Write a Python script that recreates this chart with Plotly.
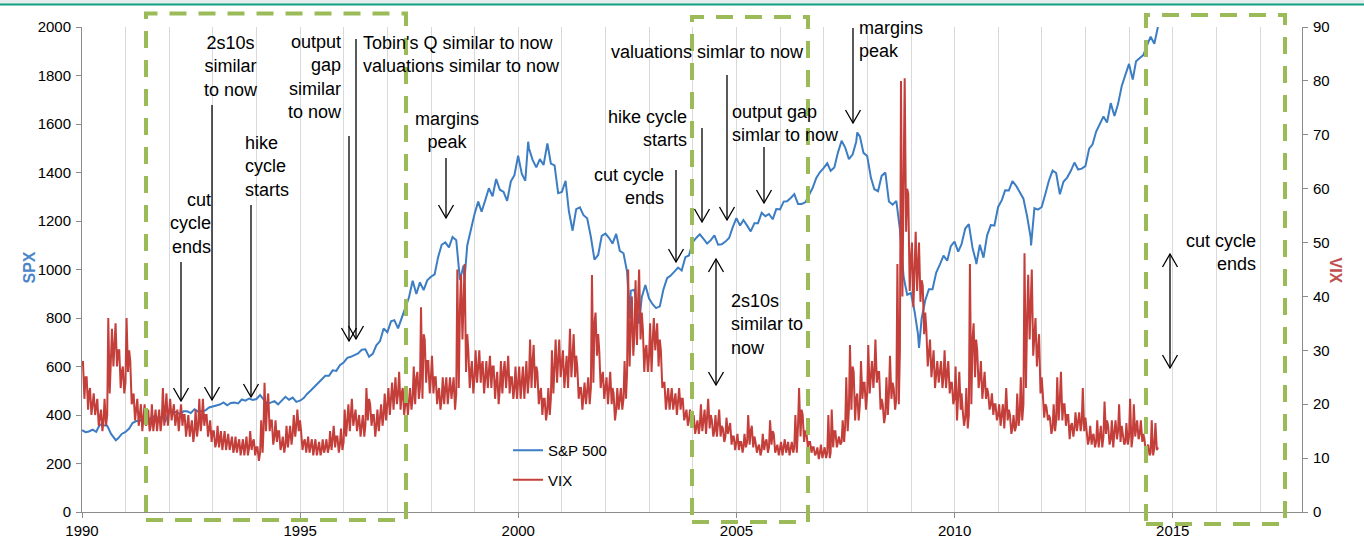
import pandas as pd
import plotly.graph_objects as go

# ---------------- data ----------------
# S&P 500 month-end levels, Jan 1990 .. Aug 2014
spx_close = [
    329, 332, 340, 331, 361, 358, 356, 323, 306, 304, 322, 330,          # 1990
    344, 367, 375, 375, 390, 371, 388, 395, 388, 392, 375, 417,          # 1991
    409, 413, 404, 415, 415, 408, 424, 414, 418, 419, 431, 436,          # 1992
    439, 443, 452, 440, 450, 451, 448, 464, 459, 468, 462, 466,          # 1993
    482, 467, 446, 451, 457, 444, 458, 475, 463, 472, 454, 459,          # 1994
    470, 487, 501, 515, 533, 545, 562, 562, 584, 582, 605, 616,          # 1995
    636, 640, 646, 654, 669, 671, 640, 652, 687, 705, 757, 741,          # 1996
    786, 791, 757, 801, 848, 885, 954, 899, 947, 915, 955, 970,          # 1997
    980, 1049, 1102, 1112, 1091, 1134, 1121, 957, 1017, 1099, 1164, 1229,  # 1998
    1280, 1238, 1286, 1335, 1302, 1373, 1329, 1320, 1283, 1363, 1389, 1469,  # 1999
    1394, 1366, 1499, 1452, 1421, 1455, 1431, 1518, 1437, 1429, 1315, 1320,  # 2000
    1366, 1240, 1160, 1249, 1256, 1224, 1211, 1134, 1041, 1060, 1139, 1148,  # 2001
    1130, 1107, 1147, 1077, 1067, 990, 912, 916, 815, 886, 936, 880,        # 2002
    856, 841, 848, 917, 964, 975, 990, 1008, 996, 1051, 1058, 1112,         # 2003
    1131, 1145, 1126, 1107, 1121, 1141, 1102, 1104, 1115, 1130, 1174, 1212,  # 2004
    1181, 1204, 1181, 1157, 1191, 1191, 1234, 1220, 1229, 1207, 1249, 1248,  # 2005
    1280, 1281, 1295, 1311, 1270, 1270, 1277, 1304, 1336, 1378, 1401, 1418,  # 2006
    1438, 1407, 1421, 1482, 1531, 1503, 1455, 1474, 1527, 1549, 1481, 1468,  # 2007
    1379, 1331, 1323, 1386, 1400, 1280, 1267, 1283, 1166, 969, 896, 903,     # 2008
    826, 735, 798, 873, 919, 919, 987, 1021, 1057, 1036, 1096, 1115,         # 2009
    1074, 1104, 1169, 1187, 1089, 1031, 1102, 1049, 1141, 1183, 1181, 1258,  # 2010
    1286, 1327, 1326, 1364, 1345, 1321, 1292, 1219, 1131, 1253, 1247, 1258,  # 2011
    1312, 1366, 1408, 1398, 1310, 1362, 1379, 1407, 1441, 1412, 1416, 1426,  # 2012
    1498, 1515, 1569, 1598, 1631, 1606, 1686, 1633, 1682, 1757, 1806, 1848,  # 2013
    1783, 1859, 1872, 1884, 1924, 1960, 1931, 2003,                          # 2014
]
# extra intra-month S&P 500 readings (start of series, highs and lows)
spx_extra_dates = ["1990-01-02", "1990-10-11", "1998-10-08", "2000-03-24", "2000-09-01",
                   "2002-07-23", "2002-10-09", "2007-10-09", "2009-03-09", "2010-07-02",
                   "2011-10-03"]
spx_extra_values = [338, 296, 959, 1527, 1520, 797, 777, 1565, 677, 1022, 1099]

# VIX month-end levels, Jan 1990 .. Aug 2014
vix_close = [
    25, 22, 20, 20, 18, 17, 18, 30, 31, 30, 26, 24,        # 1990
    30, 21, 19, 18, 17, 18, 16, 17, 17, 17, 19, 18,        # 1991
    19, 18, 17, 18, 16, 16, 15, 16, 17, 18, 16, 15,        # 1992
    13, 14, 13, 13, 13, 12, 12.5, 12, 12, 12, 13, 12,      # 1993
    11, 15, 20, 17, 14, 15, 12.5, 12.5, 14, 14.5, 16, 17,  # 1994
    13, 12, 12, 12, 12, 11.5, 12, 12, 13.5, 14, 12.5, 13,  # 1995
    17, 18, 18, 17, 16, 16, 21, 18, 16, 17, 18, 20,        # 1996
    21, 21, 22, 22, 20, 20, 21, 25, 23, 33, 28, 25,        # 1997
    25, 22, 21, 23, 22, 23, 22, 38, 40, 33, 26, 25,        # 1998
    27, 27, 25, 26, 27, 24, 23, 26, 26, 25, 23, 24,        # 1999
    24, 24, 25, 28, 27, 22, 21, 19, 21, 27, 29, 28,        # 2000
    26, 27, 30, 29, 23, 21, 22, 23, 35, 33, 25, 23,        # 2001
    23, 23, 19, 21, 21, 26, 35, 33, 39, 37, 30, 29,        # 2002
    32, 33, 32, 24, 21, 21, 21, 20, 21, 18, 17, 17,        # 2003
    16, 16, 17, 17, 18, 15, 16, 16, 14, 16, 14, 13,        # 2004
    13, 12, 13, 15, 14, 12, 11.5, 13, 12, 15, 12, 11.5,    # 2005
    12, 12, 11.5, 12, 16, 19, 15, 13, 12, 11, 11, 11,      # 2006
    11, 11, 15, 13, 13, 16, 19, 27, 21, 20, 24, 22,        # 2007
    26, 26, 26, 21, 18, 22, 24, 21, 30, 62, 60, 47,        # 2008
    45, 45, 43, 37, 30, 28, 25, 26, 25, 26, 24, 21,        # 2009
    22, 22, 17.5, 18, 32, 32, 25, 24, 23, 20, 20, 18,      # 2010
    18, 18, 19, 15.5, 16, 18, 20, 36, 38, 33, 30, 25,      # 2011
    20, 18, 15.5, 17, 21, 20, 18, 16, 15.5, 16.5, 16.5, 17.5,  # 2012
    13.5, 14, 13, 13.5, 14, 17, 13.5, 15, 15, 16, 13, 14,  # 2013
    14, 16, 14.5, 14.5, 12, 11, 12, 12,                    # 2014
]
# VIX intra-month highs (read near the 9th of each month)
vix_high = [
    28, 25, 23, 22, 21, 19, 21, 36, 34, 35, 30, 27,        # 1990
    36, 28, 22, 21, 20, 20, 19, 20, 19, 19, 23, 22,        # 1991
    21, 20, 19, 20, 18, 18, 17, 19, 21, 21, 18, 17,        # 1992
    15, 16, 15, 15, 14.5, 14, 14, 13.5, 13.5, 14, 15, 13.5,  # 1993
    12, 17, 24, 22, 17, 17, 15, 14, 16, 16, 18, 19,        # 1994
    15, 13.5, 14, 13.5, 13.5, 13, 13.5, 13.5, 15, 16, 14, 15.5,  # 1995
    19, 20, 21, 19, 18, 18, 23, 20, 18, 19, 20, 22,        # 1996
    23, 24, 25, 26, 23, 22, 23, 27, 26, 38, 32, 28,        # 1997
    29, 25, 23, 25, 25, 25, 25, 45, 44, 46, 30, 28,        # 1998
    30, 30, 28, 28, 29, 27, 26, 28, 28, 29, 25, 27,        # 1999
    27, 27, 28, 32, 31, 26, 23, 21, 23, 30, 32, 32,        # 2000
    30, 29, 34, 33, 27, 23, 24, 25, 44, 37, 30, 26,        # 2001
    25, 26, 22, 23, 23, 28, 45, 40, 43, 45, 34, 31,        # 2002
    35, 36, 35, 30, 24, 23, 23, 22, 23, 21, 19, 19,        # 2003
    18, 17, 20, 19, 21, 17, 18, 19, 15.5, 17.5, 16.5, 14,  # 2004
    14.5, 13, 14.5, 18, 16, 13, 12.5, 14.5, 13.5, 17, 14.5, 12.5,  # 2005
    13, 13.5, 13, 13, 18, 23, 18, 15, 13, 12, 12, 12.5,    # 2006
    12, 18, 19, 15, 14, 17, 25, 31, 26, 22, 28, 24,        # 2007
    31, 28, 32, 26, 20, 25, 29, 23, 46, 80, 80.5, 59,      # 2008
    50, 52, 50, 42, 34, 32, 30, 28, 28, 30, 28, 24,        # 2009
    27, 26, 19, 23, 46, 35, 30, 28, 26, 22, 22, 20,        # 2010
    20, 20, 23, 18, 18, 22, 25, 48, 44, 45, 36, 33,        # 2011
    22, 19.5, 17.5, 20, 25, 26, 20, 18, 16.5, 18.5, 18.5, 23,  # 2012
    14.5, 16, 14.5, 17, 16, 20.5, 16, 17, 17, 20, 14.5, 16.5,  # 2013
    21, 20, 17, 17, 13.5, 12.5, 17, 16.5,                  # 2014
]
# VIX intra-month lows (read near the 21st of each month)
vix_low = [
    21, 19, 18, 18, 16, 15, 16, 22, 27, 27, 23, 22,        # 1990
    26, 20, 17, 16, 15, 16, 15, 15, 15, 15, 16, 16,        # 1991
    17, 16, 15, 16, 14, 14, 13, 14, 15, 16, 14, 13,        # 1992
    12, 12, 11.5, 11.5, 11.5, 11, 11, 10.5, 10.5, 10.5, 11.5, 10.5,  # 1993
    9.5, 11, 15, 15, 12.5, 13, 11.5, 11, 12, 12.5, 14, 15,  # 1994
    11.5, 11, 11, 10.5, 10.5, 10.5, 11, 11, 11.5, 12, 11, 11.5,  # 1995
    14, 15, 16, 15, 14, 14, 17, 16, 14, 15, 16, 17,        # 1996
    18, 19, 20, 19, 18, 18, 19, 20, 21, 21, 24, 22,        # 1997
    22, 20, 19, 20, 20, 21, 19, 23, 32, 26, 23, 22,        # 1998
    24, 24, 22, 23, 23, 21, 20, 22, 23, 22, 21, 21,        # 1999
    21, 21, 22, 23, 23, 20, 18, 17, 18, 22, 24, 25,        # 2000
    23, 23, 25, 25, 21, 19, 20, 20, 24, 29, 23, 21,        # 2001
    20, 20, 17, 19, 19, 21, 27, 29, 31, 32, 26, 26,        # 2002
    26, 30, 27, 23, 19, 19, 19, 18, 19, 17, 16, 16,        # 2003
    14.5, 14.5, 15, 14.5, 15.5, 14, 14, 14, 13, 14.5, 12.5, 11.5,  # 2004
    11.5, 11, 12, 12.5, 12, 11, 10.5, 11.5, 11, 12.5, 11, 10.5,  # 2005
    10.5, 11, 10.5, 11, 11, 14, 13, 12, 11, 10.5, 9.8, 10,  # 2006
    10, 10, 12, 12, 12.5, 13, 15, 19, 17, 17, 21, 19,      # 2007
    22, 23, 24, 19, 16.5, 18, 21, 19, 20, 40, 52, 41,      # 2008
    38, 41, 39, 33, 27, 25, 23, 24, 23, 23, 22, 20,        # 2009
    17, 19, 16, 15.5, 20, 25, 23, 21, 21, 19, 18, 17,      # 2010
    16, 15.5, 17, 14.5, 15, 16, 17, 23, 32, 29, 27, 22,    # 2011
    17.5, 17, 14.5, 15, 17, 17, 16, 13.5, 14, 15, 15, 15,  # 2012
    12.5, 12.5, 12, 12, 12, 14.5, 12.5, 12, 13.5, 13, 12.5, 12.5,  # 2013
    12, 14, 13.5, 13, 11, 10.5, 10.5, 11.5,                # 2014
]
vix_start_date = "1990-01-02"
vix_start_value = 27

x_tick_years = ["1990", "1995", "2000", "2005", "2010", "2015"]

# ---------------- build series ----------------
month_starts = pd.date_range("1990-01-01", periods=len(spx_close), freq="MS")
month_ends = month_starts + pd.offsets.MonthEnd(0)
spx = pd.concat([pd.Series(spx_close, index=month_ends),
                 pd.Series(spx_extra_values, index=pd.to_datetime(spx_extra_dates))]).sort_index()
vix = pd.concat([pd.Series([vix_start_value], index=pd.to_datetime([vix_start_date])),
                 pd.Series(vix_high, index=month_starts + pd.Timedelta(days=8)),
                 pd.Series(vix_low, index=month_starts + pd.Timedelta(days=20)),
                 pd.Series(vix_close, index=month_ends)]).sort_index()

BLUE = "#3C7DC4"
RED = "#C43E3A"
GREEN = "#9BBB59"
FONT = "Liberation Sans, Arial, sans-serif"

fig = go.Figure()
fig.add_trace(go.Scatter(x=spx.index, y=spx.values, mode="lines", name="S&P 500",
                         line=dict(color=BLUE, width=2), legendgroup="a", yaxis="y"))
fig.add_trace(go.Scatter(x=vix.index, y=vix.values, mode="lines", name="VIX",
                         line=dict(color=RED, width=2), legendgroup="b", yaxis="y2"))

# ---------------- layout helpers (pixel -> paper) ----------------
W, H = 1364, 539
L, R, T, B = 82, 1302, 27, 512


def px(x):
    return (x - L) / (R - L)


def py(y):
    return (B - y) / (B - T)


shapes = []
annotations = []

# header band
shapes.append(dict(type="rect", xref="paper", yref="paper", x0=px(0), x1=px(W), y0=py(0), y1=py(4),
                   fillcolor="#E6EDED", line=dict(width=0), layer="below"))
shapes.append(dict(type="line", xref="paper", yref="paper", x0=px(0), x1=px(W), y0=py(4.5), y1=py(4.5),
                   line=dict(color="#13A085", width=2)))

# green dashed highlight boxes (pixel rectangles)
for x0, x1, y0, y1 in [(146, 406, 13.5, 520), (692, 808, 17, 522), (1146, 1285, 15, 524)]:
    shapes.append(dict(type="rect", xref="paper", yref="paper", x0=px(x0), x1=px(x1), y0=py(y1), y1=py(y0),
                       line=dict(color=GREEN, width=4, dash="17px,12px"), fillcolor="rgba(0,0,0,0)"))


def head(x, y, direction):
    # open V arrowhead with tip at (x, y); direction +1 = pointing down, -1 = pointing up
    d = -13 * direction
    path = "M {:.5f},{:.5f} L {:.5f},{:.5f} L {:.5f},{:.5f}".format(
        px(x - 7.5), py(y + d), px(x), py(y), px(x + 7.5), py(y + d))
    shapes.append(dict(type="path", xref="paper", yref="paper", path=path,
                       line=dict(color="black", width=1.3)))


def arrow(x, y0, y1, double=False):
    shapes.append(dict(type="line", xref="paper", yref="paper", x0=px(x), x1=px(x), y0=py(y0), y1=py(y1),
                       line=dict(color="black", width=1.3)))
    head(x, y1, 1 if y1 > y0 else -1)
    if double:
        head(x, y0, 1 if y0 > y1 else -1)


arrow(181, 262, 401)
arrow(212, 105, 400)
arrow(251, 205, 397)
arrow(349, 136, 341)
arrow(356, 39, 339)
arrow(446, 158, 218)
arrow(676, 170, 262)
arrow(702, 128, 222)
arrow(727, 75, 220)
arrow(764, 147, 203)
arrow(853, 28, 123)
arrow(716, 259, 385, double=True)
arrow(1170, 254, 368, double=True)

notes = [
    ("cut<br>cycle<br>ends", 213, 223, "right", "right"),
    ("2s10s<br>similar<br>to now", 231, 66, "center", "center"),
    ("hike<br>cycle<br>starts", 243, 166, "left", "left"),
    ("output<br>gap<br>similar<br>to now", 344, 77.5, "right", "right"),
    ("Tobin's Q similar to now<br>valuations similar to now", 361, 54.5, "left", "left"),
    ("margins<br>peak", 447, 130, "center", "center"),
    ("cut cycle<br>ends", 666, 186.5, "right", "right"),
    ("hike cycle<br>starts", 689, 128, "right", "right"),
    ("valuations simlar to now", 708, 52, "center", "center"),
    ("output gap<br>simlar to now", 730, 123.5, "left", "left"),
    ("margins<br>peak", 857, 39.5, "left", "left"),
    ("2s10s<br>similar to<br>now", 729, 324, "left", "left"),
    ("cut cycle<br>ends", 1258, 252, "right", "right"),
]
for text, x, y, xa, al in notes:
    annotations.append(dict(text=text, xref="paper", yref="paper", x=px(x), y=py(y), xanchor=xa,
                            yanchor="middle", align=al, showarrow=False,
                            font=dict(family=FONT, size=18, color="black")))

# axis titles
annotations.append(dict(text="<b>SPX</b>", xref="paper", yref="paper", x=px(18), y=py(268), textangle=-90,
                        showarrow=False, font=dict(family=FONT, size=16, color="#4A86C8")))
annotations.append(dict(text="<b>VIX</b>", xref="paper", yref="paper", x=px(1346), y=py(270), textangle=90,
                        showarrow=False, font=dict(family=FONT, size=16, color="#C0504D")))

axis_common = dict(showline=True, linecolor="#8C8C8C", linewidth=1, ticks="outside", ticklen=5,
                   tickcolor="#8C8C8C", tickfont=dict(family=FONT, size=15, color="black"),
                   zeroline=False, showgrid=False, automargin=False)

fig.update_layout(
    width=W, height=H,
    margin=dict(l=L, r=W - R, t=T, b=H - B),
    paper_bgcolor="white", plot_bgcolor="white",
    showlegend=True,
    legend=dict(x=px(508), y=py(434), xanchor="left", yanchor="top", bgcolor="rgba(0,0,0,0)",
                font=dict(family=FONT, size=15, color="black"), tracegroupgap=7,
                traceorder="grouped"),
    xaxis=dict(type="date", range=["1990-01-01", "2017-12-18"], tickvals=x_tick_years,
               tickformat="%Y", showline=True, linecolor="#8C8C8C", ticks="outside", ticklen=5,
               tickcolor="#8C8C8C", tickfont=dict(family=FONT, size=15, color="black"),
               showgrid=True, gridcolor="#D9D9D9", gridwidth=1, zeroline=False, automargin=False,
               ticklabelstandoff=0,
               minor=dict(dtick="M12", tick0="1990-01-01", showgrid=True, gridcolor="#D9D9D9",
                          gridwidth=1, ticks="")),
    yaxis=dict(range=[0, 2000], dtick=200, side="left", ticklabelstandoff=2, **axis_common),
    yaxis2=dict(range=[0, 90], dtick=10, side="right", overlaying="y", ticklabelstandoff=2, **axis_common),
    shapes=shapes,
    annotations=annotations,
)

fig.write_html("out.html", config={"displayModeBar": False},
               post_script="document.body.style.margin='0px';")
